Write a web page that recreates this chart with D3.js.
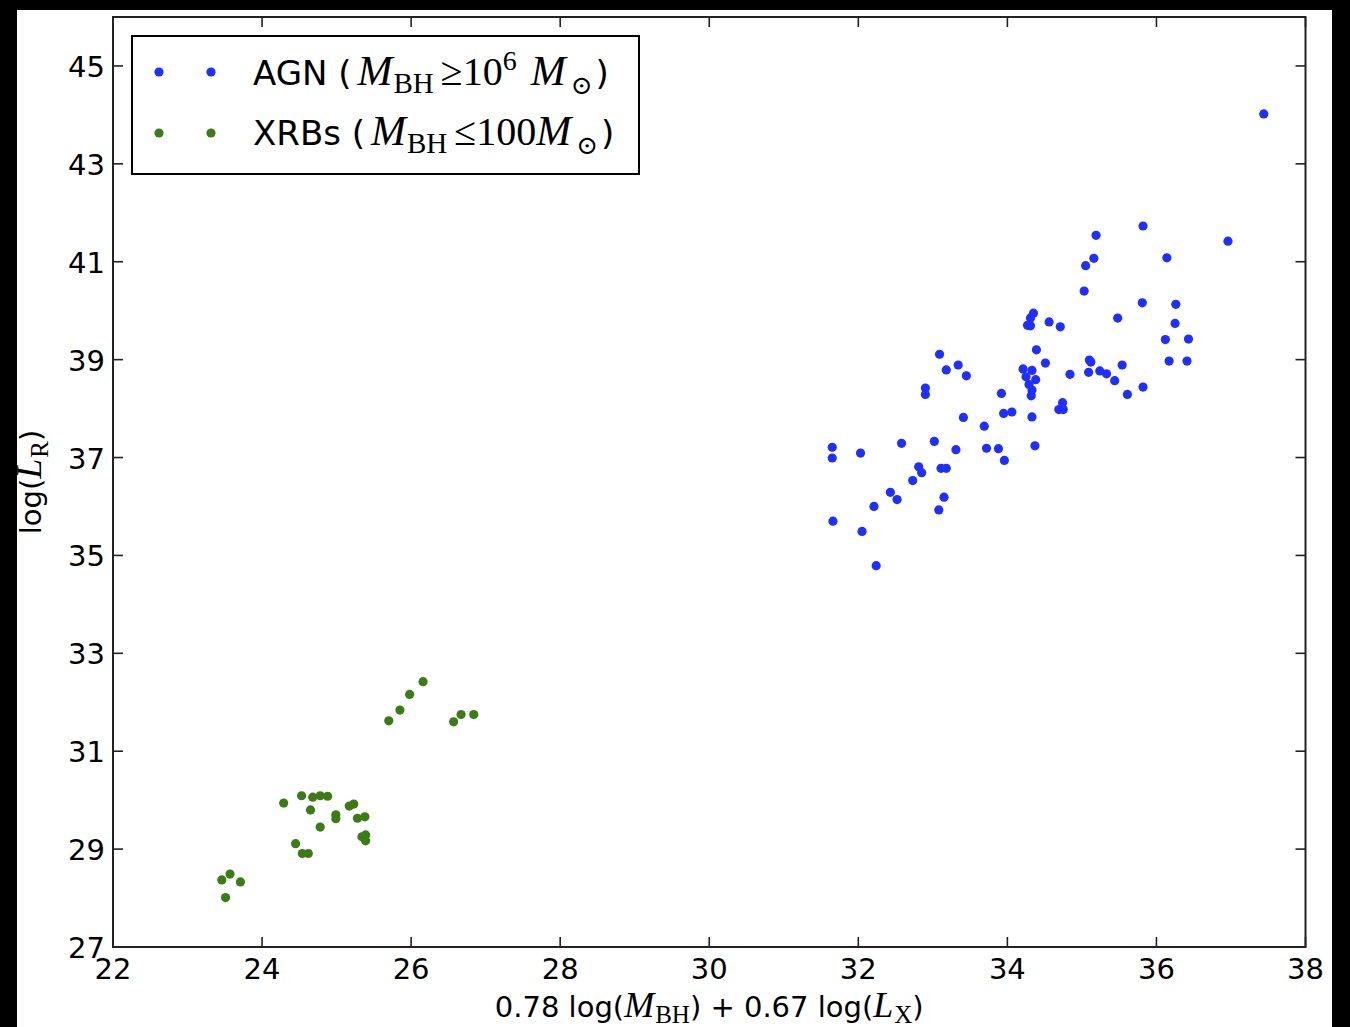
<!DOCTYPE html>
<html lang="en">
<head>
<meta charset="UTF-8">
<title>log(L_R) vs fundamental plane</title>
<script src="https://d3js.org/d3.v7.min.js"></script>
<style>
  body { margin: 0; background: #000; }
  svg { display: block; }
</style>
</head>
<body>
<svg id="chart" width="1350" height="1027"></svg>
<script>
// AGN points (x = 0.78 log M_BH + 0.67 log L_X, y = log L_R)
var agnX = [35.82, 35.19, 36.96, 35.16, 36.14, 35.05, 35.03, 35.81, 36.26, 35.48,
            36.25, 34.35, 34.31, 34.27, 34.31, 34.56, 34.71, 36.12, 36.43, 34.39,
            33.09, 33.34, 33.18, 33.45, 34.51, 35.10, 35.12, 36.17, 36.41, 35.54,
            35.09, 35.24, 35.33, 34.84, 34.21, 34.33, 34.25, 34.38, 34.29, 35.44,
            32.90, 32.90, 34.33, 34.32, 35.82, 35.61, 33.92, 33.95, 34.06, 34.74,
            34.69, 34.75, 33.41, 34.33, 33.69, 31.65, 31.65, 32.03, 32.58, 33.02,
            33.31, 33.72, 33.88, 34.37, 33.96, 32.81, 32.85, 33.11, 33.18, 32.73,
            32.43, 32.52, 32.21, 33.15, 33.08, 31.66, 32.05, 32.24, 37.44];
var agnY = [41.73, 41.54, 41.42, 41.07, 41.08, 40.92, 40.40, 40.16, 40.13, 39.85,
            39.74, 39.95, 39.85, 39.70, 39.69, 39.77, 39.67, 39.41, 39.42, 39.20,
            39.11, 38.89, 38.79, 38.67, 38.93, 38.99, 38.95, 38.97, 38.97, 38.89,
            38.74, 38.77, 38.71, 38.70, 38.81, 38.78, 38.65, 38.59, 38.49, 38.57,
            38.42, 38.29, 38.38, 38.26, 38.44, 38.29, 38.31, 37.90, 37.93, 38.12,
            37.98, 37.98, 37.82, 37.83, 37.64, 37.21, 36.99, 37.09, 37.29, 37.33,
            37.16, 37.19, 37.18, 37.24, 36.94, 36.81, 36.69, 36.78, 36.78, 36.53,
            36.29, 36.14, 36.00, 36.19, 35.93, 35.70, 35.49, 34.79, 44.02];

// XRB points
var xrbX = [26.16, 25.98, 25.85, 25.70, 26.67, 26.84, 26.57, 24.29, 24.53, 24.68,
            24.78, 24.88, 24.65, 24.78, 24.45, 24.54, 24.62, 24.99, 24.99, 25.17,
            25.23, 25.28, 25.38, 25.34, 25.39, 25.39, 23.46, 23.57, 23.71, 23.51];
var xrbY = [32.42, 32.16, 31.84, 31.62, 31.75, 31.75, 31.60, 29.94, 30.09, 30.06,
            30.09, 30.08, 29.80, 29.45, 29.11, 28.91, 28.91, 29.70, 29.62, 29.88,
            29.92, 29.63, 29.66, 29.25, 29.29, 29.17, 28.37, 28.49, 28.33, 28.01];

var xTicks = [22, 24, 26, 28, 30, 32, 34, 36, 38];
var yTicks = [27, 29, 31, 33, 35, 37, 39, 41, 43, 45];

var blue = "#1f2fff", green = "#3b7c16";

var svg = d3.select("#chart");
var sans = "'DejaVu Sans', sans-serif";
var serif = "'Liberation Serif', 'DejaVu Serif', serif";

// white figure area on the black page
svg.append("rect")
  .attr("x", 17).attr("y", 10)
  .attr("width", 1315).attr("height", 1017)
  .attr("fill", "#fff");

var pLeft = 113, pRight = 1305.5, pTop = 17, pBottom = 947;

var x = d3.scaleLinear().domain([22, 38]).range([pLeft, pRight]);
var y = d3.scaleLinear().domain([27, 46]).range([pBottom, pTop]);

// ticks pointing inward on all four sides
var tickLen = 10;
var axes = svg.append("g").attr("stroke", "#222").attr("stroke-width", 1.6);
xTicks.forEach(function(t) {
  axes.append("line").attr("x1", x(t)).attr("x2", x(t)).attr("y1", pBottom).attr("y2", pBottom - tickLen);
  axes.append("line").attr("x1", x(t)).attr("x2", x(t)).attr("y1", pTop).attr("y2", pTop + tickLen);
});
yTicks.forEach(function(t) {
  axes.append("line").attr("x1", pLeft).attr("x2", pLeft + tickLen).attr("y1", y(t)).attr("y2", y(t));
  axes.append("line").attr("x1", pRight).attr("x2", pRight - tickLen).attr("y1", y(t)).attr("y2", y(t));
});

// tick labels
svg.append("g").selectAll("text").data(xTicks).enter().append("text")
  .attr("x", function(d) { return x(d); })
  .attr("y", pBottom + 32)
  .attr("text-anchor", "middle")
  .attr("font-family", sans).attr("font-size", 29)
  .text(function(d) { return d; });

svg.append("g").selectAll("text").data(yTicks).enter().append("text")
  .attr("x", pLeft - 8)
  .attr("y", function(d) { return y(d) + 11; })
  .attr("text-anchor", "end")
  .attr("font-family", sans).attr("font-size", 29)
  .text(function(d) { return d; });

// points
svg.append("g").selectAll("circle").data(d3.range(agnX.length)).enter().append("circle")
  .attr("cx", function(i) { return x(agnX[i]); })
  .attr("cy", function(i) { return y(agnY[i]); })
  .attr("r", 4.6)
  .attr("fill", blue);

svg.append("g").selectAll("circle").data(d3.range(xrbX.length)).enter().append("circle")
  .attr("cx", function(i) { return x(xrbX[i]); })
  .attr("cy", function(i) { return y(xrbY[i]); })
  .attr("r", 4.6)
  .attr("fill", green);

// frame
svg.append("rect")
  .attr("x", pLeft).attr("y", pTop)
  .attr("width", pRight - pLeft).attr("height", pBottom - pTop)
  .attr("fill", "none").attr("stroke", "#222").attr("stroke-width", 2);

// helper: write a text made of styled pieces
function richText(g, px, py, parts, extra) {
  var t = g.append("text").attr("x", px).attr("y", py);
  if (extra) extra(t);
  parts.forEach(function(p) {
    var s = t.append("tspan").text(p.t)
      .attr("font-family", p.serif ? serif : sans)
      .attr("font-size", p.size || 34);
    if (p.it) s.attr("font-style", "italic");
    if (p.dy) s.attr("dy", p.dy);
    if (p.dx) s.attr("dx", p.dx);
  });
  return t;
}

// legend
var lg = svg.append("g");
lg.append("rect")
  .attr("x", 132).attr("y", 36)
  .attr("width", 507).attr("height", 138)
  .attr("fill", "#fff").attr("stroke", "#000").attr("stroke-width", 2);

[[72, blue], [133, green]].forEach(function(r) {
  lg.append("circle").attr("cx", 159).attr("cy", r[0]).attr("r", 4.6).attr("fill", r[1]);
  lg.append("circle").attr("cx", 211).attr("cy", r[0]).attr("r", 4.6).attr("fill", r[1]);
});

richText(lg, 253, 85, [
  { t: "AGN (" },
  { t: "M", serif: true, it: true, size: 42, dx: 6 },
  { t: "BH", serif: true, size: 29, dy: 8, dx: 1 },
  { t: "\u2265", serif: true, size: 40, dy: -8, dx: 7 },
  { t: "10", serif: true, size: 40 },
  { t: "6", serif: true, size: 28, dy: -15 },
  { t: "M", serif: true, it: true, size: 42, dy: 15, dx: 14 },
  { t: "\u2299", serif: true, size: 26, dy: 9, dx: 5 },
  { t: ")", dy: -9, dx: 3 }
]);

richText(lg, 253, 145, [
  { t: "XRBs (" },
  { t: "M", serif: true, it: true, size: 42, dx: 6 },
  { t: "BH", serif: true, size: 29, dy: 8, dx: 1 },
  { t: "\u2264", serif: true, size: 40, dy: -8, dx: 7 },
  { t: "100", serif: true, size: 40 },
  { t: "M", serif: true, it: true, size: 42 },
  { t: "\u2299", serif: true, size: 26, dy: 9, dx: 5 },
  { t: ")", dy: -9, dx: 3 }
]);

// axis labels
richText(svg, (pLeft + pRight) / 2, 1017, [
  { t: "0.78 log(", size: 29 },
  { t: "M", serif: true, it: true, size: 36 },
  { t: "BH", serif: true, size: 25, dy: 6, dx: 1 },
  { t: ") + 0.67 log(", size: 29, dy: -6 },
  { t: "L", serif: true, it: true, size: 36 },
  { t: "X", serif: true, size: 25, dy: 6, dx: 1 },
  { t: ")", size: 29, dy: -6 }
], function(t) { t.attr("text-anchor", "middle"); });

richText(svg, 0, 0, [
  { t: "log(", size: 29 },
  { t: "L", serif: true, it: true, size: 36 },
  { t: "R", serif: true, size: 25, dy: 7, dx: 1 },
  { t: ")", size: 29, dy: -7 }
], function(t) {
  t.attr("text-anchor", "middle")
   .attr("transform", "translate(41," + 482 + ") rotate(-90)");
});
</script>
</body>
</html>
